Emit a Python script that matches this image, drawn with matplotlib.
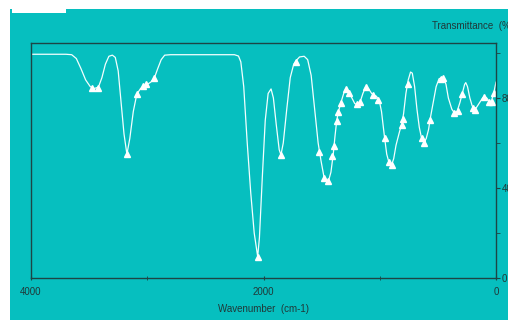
import numpy as np
import matplotlib
matplotlib.use("Agg")
import matplotlib.pyplot as plt
from matplotlib.patches import Rectangle

# spectrum (wavenumber cm-1, transmittance %)
wavenumber = [4000, 3700, 3650, 3610, 3570, 3530, 3490, 3455, 3420, 3390, 3360, 3330,
              3300, 3275, 3250, 3225, 3200, 3175, 3150, 3120, 3090, 3060, 3030, 3000,
              2970, 2940, 2910, 2880, 2850, 2800, 2250, 2215, 2195, 2170, 2140, 2110,
              2080, 2050, 2035, 2010, 1985, 1960, 1935, 1915, 1890, 1865, 1850, 1830,
              1800, 1770, 1740, 1720, 1690, 1650, 1620, 1590, 1560, 1530, 1505, 1480,
              1460, 1440, 1420, 1400, 1385, 1370, 1355, 1335, 1310, 1290, 1265, 1240,
              1215, 1195, 1170, 1145, 1120, 1095, 1070, 1050, 1030, 1005, 985, 960,
              940, 920, 900, 880, 860, 830, 810, 795, 775, 755, 735, 720, 700, 680,
              660, 640, 620, 600, 580, 565, 540, 515, 490, 470, 450, 430, 410, 380,
              360, 335, 310, 290, 270, 260, 245, 225, 205, 185, 165, 140, 115, 100,
              80, 60, 40, 20, 0]
transmittance = [99.4, 99.4, 99.2, 97.5, 93, 88, 85, 84.2, 84.8, 89, 95, 98.5,
                 99, 98, 92, 78, 64, 55, 62, 74, 81.6, 84, 85.4, 86,
                 87, 88.7, 93, 97, 99, 99.2, 99.2, 98.6, 96, 85, 60, 38,
                 20, 9.5, 18, 45, 70, 82, 84, 80, 68, 57, 54.7, 60,
                 75, 89, 95, 96.5, 98.2, 98.5, 97, 90, 75, 60, 52, 45,
                 43.5, 43.3, 47, 55, 63, 70, 74, 77.8, 82, 84, 82.5, 80,
                 77.5, 77, 78, 82, 85, 84, 82, 81.2, 80.8, 79, 74, 63,
                 55, 51.2, 50, 53, 59, 65, 68.5, 73, 82, 88, 91.5, 91, 85, 75,
                 67, 62, 60, 62, 66, 71, 78, 85, 88.5, 89, 88.8, 86, 80, 75,
                 73.5, 74, 78, 82, 86, 86.8, 85, 80, 76.5, 74.7, 76, 78, 80, 80.5,
                 80, 78.5, 78.5, 82, 87]

# picked peaks (triangle markers)
peak_wn = [3478, 3426, 3171, 3091, 3034, 3013, 2939, 2045, 1852, 1723, 1523, 1477,
           1443, 1408, 1394, 1371, 1357, 1336, 1290, 1262, 1198, 1170, 1118, 1055,
           1012, 955, 920, 892, 811, 803, 760, 634, 617, 568, 476, 453, 359, 329,
           290, 195, 181, 101, 58, 37, 17]
peak_t = [84.6, 84.6, 55, 81.6, 85.3, 86, 88.7, 9.5, 54.7, 96.1, 55.9, 44.3,
          43.3, 54.2, 58.8, 69.9, 73.9, 77.6, 83.8, 82.1, 77.2, 78.1, 85.0, 81.3,
          79.1, 62.4, 51.4, 50.2, 68, 70.5, 86, 62.4, 59.9, 70.2, 88.3, 89, 73.5, 74.2,
          81.8, 75.7, 74.7, 80.3, 78.4, 78.4, 82.1]

xticks = [4000, 2000, 0]
xminor = [3000, 1000]
yticks = [0, 40, 80]
yminor = [20, 60, 100]

teal = "#06BFBF"
dark = "#1d4545"
txt = "#203838"

plt.rcParams['font.family'] = ['Liberation Sans', 'DejaVu Sans']

fig = plt.figure(figsize=(5.08, 3.2), dpi=100, facecolor="white")
# teal panel, white strips top/left and the little white box top-left
fig.patches.append(Rectangle((10 / 508, 0), 1, (320 - 9) / 320, transform=fig.transFigure,
                             facecolor=teal, edgecolor="none", zorder=-2))
fig.patches.append(Rectangle((12 / 508, (320 - 13) / 320), 54 / 508, 13 / 320,
                             transform=fig.transFigure, facecolor="white",
                             edgecolor="none", zorder=-1))

ax = fig.add_axes([31 / 508, 42 / 320, 465 / 508, 235 / 320])
ax.set_facecolor(teal)
ax.plot(wavenumber, transmittance, color="#f2ffff", lw=0.9)
ax.plot(peak_wn, peak_t, ls="none", marker="^", ms=4, color="white", mec="white")

ax.set_xlim(4000, 0)
ax.set_ylim(0, 104.4)
for s in ax.spines.values():
    s.set_color(dark)
    s.set_linewidth(1.0)

ax.set_xticks(xticks)
ax.set_xticks(xminor, minor=True)
ax.set_xticklabels([str(v) for v in xticks])
ax.tick_params(axis="x", which="both", direction="inout", length=3, color=dark,
               labelsize=7, labelcolor=txt, pad=5)

ax.yaxis.tick_right()
ax.set_yticks(yticks)
ax.set_yticks(yminor, minor=True)
ax.set_yticklabels([str(v) for v in yticks])
ax.tick_params(axis="y", which="both", direction="out", length=3, color=dark,
               labelsize=7, labelcolor=txt, pad=1)

fig.text(263 / 508, 1 - 309 / 320, "Wavenumber  (cm-1)", ha="center", va="center",
         fontsize=7, color=txt)
fig.text(432 / 508, 1 - 26 / 320, "Transmittance  (%)", ha="left", va="center",
         fontsize=7, color=txt)

fig.savefig("out.png", dpi=100, facecolor="white")
